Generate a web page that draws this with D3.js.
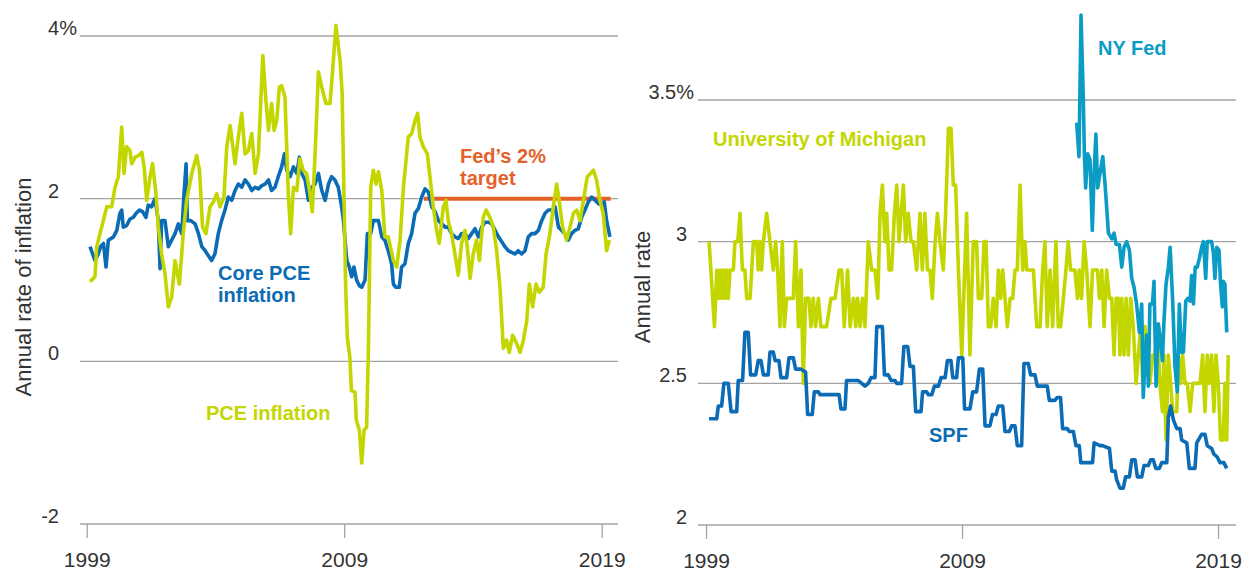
<!DOCTYPE html>
<html><head><meta charset="utf-8">
<script src="https://cdn.jsdelivr.net/npm/d3@7"></script>
<style>
body{margin:0;background:#fff;}
svg{display:block;font-family:"Liberation Sans",Arial,Helvetica,sans-serif;}
</style>
</head><body>
<svg id="chart" width="1250" height="571"></svg>
<script>
// ---------- DATA ----------
const xTickYears = [1999, 2009, 2019];
const leftYTicks = [-2, 0, 2, 4];
const leftYLabels = ["-2", "0", "2", "4%"];
const rightYTicks = [2, 2.5, 3, 3.5];
const rightYLabels = ["2", "2.5", "3", "3.5%"];
const fedTarget = [[2012.1, 2], [2019.35, 2]];

// [year fraction, annual rate %]
const pceInflation = [
[1999.13,0.98],[1999.32,1.04],[1999.39,1.41],[1999.78,1.90],[1999.97,1.90],[2000.10,2.14],[2000.23,2.27],[2000.36,2.88],[2000.45,2.31],[2000.55,2.64],[2000.68,2.59],[2000.75,2.43],[2000.88,2.51],[2001.01,2.53],[2001.14,2.57],[2001.23,2.39],[2001.33,1.98],[2001.46,2.27],[2001.56,2.43],[2001.69,2.06],[2001.78,1.65],[2001.91,1.32],[2002.04,1.08],[2002.17,0.67],[2002.30,0.79],[2002.43,1.24],[2002.60,0.95],[2002.75,1.57],[2002.88,1.98],[2003.08,2.31],[2003.27,2.53],[2003.38,2.35],[2003.50,1.65],[2003.63,1.57],[2003.79,1.90],[2003.92,1.96],[2004.05,2.06],[2004.18,1.90],[2004.33,2.02],[2004.44,2.64],[2004.57,2.90],[2004.76,2.43],[2004.89,2.76],[2005.02,3.05],[2005.15,2.55],[2005.28,2.59],[2005.41,2.80],[2005.54,2.31],[2005.67,2.55],[2005.84,3.76],[2005.96,3.21],[2006.06,2.84],[2006.18,3.17],[2006.28,2.84],[2006.38,2.96],[2006.48,3.37],[2006.57,3.39],[2006.70,3.25],[2006.83,2.06],[2006.92,1.57],[2007.03,2.14],[2007.16,2.10],[2007.28,2.49],[2007.41,2.35],[2007.54,2.31],[2007.67,2.06],[2007.76,1.84],[2007.87,2.55],[2008.00,3.56],[2008.13,3.37],[2008.29,3.17],[2008.45,3.17],[2008.58,3.70],[2008.68,4.13],[2008.84,3.70],[2008.92,3.30],[2009.00,1.90],[2009.05,1.00],[2009.12,0.30],[2009.22,0.05],[2009.28,-0.36],[2009.42,-0.38],[2009.47,-0.72],[2009.59,-0.85],[2009.68,-1.25],[2009.77,-0.85],[2009.87,-0.81],[2009.94,0.15],[2010.03,2.14],[2010.13,2.35],[2010.24,2.18],[2010.33,2.33],[2010.46,2.10],[2010.58,1.53],[2010.71,1.53],[2010.91,1.24],[2011.04,1.16],[2011.17,1.49],[2011.30,2.14],[2011.49,2.76],[2011.62,2.80],[2011.75,2.96],[2011.85,3.05],[2011.94,2.76],[2012.07,2.64],[2012.23,2.55],[2012.33,2.27],[2012.46,1.90],[2012.59,1.61],[2012.69,1.45],[2012.85,1.90],[2012.95,1.98],[2013.04,1.73],[2013.17,1.57],[2013.30,1.32],[2013.43,1.06],[2013.56,1.45],[2013.69,1.61],[2013.78,1.41],[2013.89,1.02],[2014.01,1.32],[2014.14,1.49],[2014.25,1.24],[2014.40,1.77],[2014.51,1.86],[2014.66,1.77],[2014.79,1.65],[2014.92,1.36],[2015.05,0.91],[2015.18,0.16],[2015.31,0.26],[2015.41,0.11],[2015.54,0.32],[2015.67,0.24],[2015.83,0.11],[2015.96,0.26],[2016.09,0.50],[2016.19,0.95],[2016.32,0.67],[2016.45,0.95],[2016.58,0.85],[2016.73,0.91],[2016.84,1.32],[2016.99,1.57],[2017.12,1.90],[2017.25,2.18],[2017.35,1.98],[2017.48,1.65],[2017.64,1.49],[2017.77,1.65],[2017.90,1.82],[2018.03,1.86],[2018.16,1.73],[2018.29,1.98],[2018.44,2.27],[2018.57,2.31],[2018.68,2.35],[2018.80,2.23],[2018.93,1.98],[2019.06,1.82],[2019.19,1.36],[2019.30,1.49]
];

const corePce = [
[1999.13,1.41],[1999.23,1.32],[1999.32,1.24],[1999.45,1.32],[1999.54,1.41],[1999.65,1.45],[1999.75,1.16],[1999.84,1.49],[2000.04,1.53],[2000.17,1.61],[2000.29,1.82],[2000.36,1.86],[2000.42,1.65],[2000.55,1.67],[2000.68,1.75],[2000.81,1.77],[2000.92,1.82],[2001.05,1.86],[2001.17,1.84],[2001.30,1.77],[2001.39,1.92],[2001.52,1.90],[2001.65,2.00],[2001.78,1.73],[2001.85,1.14],[2001.91,1.73],[2002.04,1.73],[2002.17,1.41],[2002.30,1.49],[2002.43,1.57],[2002.56,1.69],[2002.69,1.57],[2002.78,2.06],[2002.86,2.43],[2002.91,1.73],[2003.04,1.73],[2003.21,1.69],[2003.34,1.57],[2003.47,1.41],[2003.60,1.36],[2003.72,1.30],[2003.85,1.24],[2003.98,1.32],[2004.11,1.57],[2004.24,1.73],[2004.37,1.86],[2004.50,2.02],[2004.63,1.98],[2004.76,2.10],[2004.89,2.18],[2005.02,2.14],[2005.15,2.23],[2005.28,2.18],[2005.41,2.10],[2005.54,2.14],[2005.67,2.12],[2005.80,2.16],[2005.93,2.18],[2006.06,2.23],[2006.18,2.10],[2006.31,2.14],[2006.44,2.27],[2006.57,2.39],[2006.68,2.55],[2006.77,2.35],[2006.90,2.27],[2007.03,2.39],[2007.16,2.31],[2007.26,2.51],[2007.35,2.31],[2007.48,2.23],[2007.61,1.98],[2007.74,2.14],[2007.87,2.18],[2008.00,2.31],[2008.13,2.10],[2008.26,1.98],[2008.39,2.18],[2008.51,2.27],[2008.64,2.23],[2008.77,2.14],[2008.90,1.90],[2008.97,1.73],[2009.10,1.24],[2009.20,1.16],[2009.29,1.04],[2009.38,1.16],[2009.48,1.00],[2009.59,0.93],[2009.68,0.91],[2009.81,1.00],[2009.90,1.57],[2010.03,1.57],[2010.13,1.73],[2010.24,1.73],[2010.33,1.73],[2010.46,1.53],[2010.58,1.49],[2010.71,1.36],[2010.84,1.20],[2010.91,0.95],[2011.01,0.91],[2011.14,0.91],[2011.23,1.16],[2011.36,1.20],[2011.49,1.45],[2011.62,1.57],[2011.75,1.82],[2011.88,1.88],[2012.01,2.02],[2012.14,2.12],[2012.27,2.08],[2012.40,1.90],[2012.53,1.84],[2012.66,1.73],[2012.79,1.69],[2012.92,1.65],[2013.04,1.65],[2013.17,1.57],[2013.30,1.53],[2013.43,1.51],[2013.56,1.57],[2013.69,1.57],[2013.82,1.51],[2013.95,1.57],[2014.08,1.63],[2014.21,1.53],[2014.34,1.65],[2014.47,1.71],[2014.60,1.71],[2014.73,1.69],[2014.86,1.61],[2014.99,1.53],[2015.12,1.47],[2015.24,1.41],[2015.37,1.36],[2015.50,1.34],[2015.63,1.32],[2015.76,1.36],[2015.89,1.32],[2016.02,1.36],[2016.15,1.53],[2016.28,1.57],[2016.41,1.57],[2016.54,1.61],[2016.67,1.73],[2016.80,1.82],[2016.93,1.86],[2017.06,1.86],[2017.19,1.90],[2017.32,1.65],[2017.45,1.61],[2017.57,1.57],[2017.70,1.49],[2017.83,1.57],[2017.96,1.61],[2018.09,1.63],[2018.22,1.77],[2018.35,1.86],[2018.48,1.96],[2018.61,2.02],[2018.74,1.98],[2018.87,1.94],[2019.00,1.92],[2019.10,1.96],[2019.19,1.73],[2019.32,1.53]
];

const michigan = [
[1999.12,3.0],[1999.33,2.7],[1999.42,2.9],[1999.48,2.8],[1999.55,2.9],[1999.61,2.8],[1999.68,2.9],[1999.74,2.8],[1999.81,2.9],[1999.87,2.8],[1999.94,2.9],[2000.07,2.9],[2000.13,3.0],[2000.24,3.0],[2000.33,3.1],[2000.42,2.9],[2000.52,2.9],[2000.59,2.8],[2000.72,2.8],[2000.85,3.0],[2000.98,3.0],[2001.04,2.9],[2001.11,3.0],[2001.17,2.9],[2001.24,3.0],[2001.37,3.1],[2001.50,3.0],[2001.63,2.9],[2001.72,3.0],[2001.80,2.9],[2001.89,2.7],[2001.98,3.0],[2002.06,2.7],[2002.15,2.8],[2002.41,2.8],[2002.50,3.0],[2002.61,2.7],[2002.71,2.9],[2002.80,2.5],[2002.89,2.8],[2003.02,2.8],[2003.10,2.7],[2003.19,2.8],[2003.28,2.7],[2003.39,2.8],[2003.49,2.7],[2003.71,2.7],[2003.88,2.8],[2004.04,2.8],[2004.20,2.9],[2004.30,2.9],[2004.40,2.7],[2004.53,2.9],[2004.63,2.7],[2004.76,2.8],[2004.85,2.7],[2004.92,2.8],[2005.02,2.7],[2005.11,2.8],[2005.21,2.7],[2005.34,3.0],[2005.47,2.9],[2005.60,2.9],[2005.71,2.8],[2005.80,3.1],[2005.89,3.2],[2005.99,3.0],[2006.06,3.1],[2006.15,2.9],[2006.25,2.9],[2006.36,3.1],[2006.45,3.2],[2006.54,3.0],[2006.62,3.1],[2006.71,3.2],[2006.80,3.0],[2006.90,3.1],[2007.01,3.0],[2007.10,3.0],[2007.23,2.9],[2007.36,3.1],[2007.45,2.9],[2007.55,3.1],[2007.65,2.9],[2007.75,2.9],[2007.84,2.8],[2007.95,3.0],[2008.04,3.1],[2008.14,3.0],[2008.27,2.9],[2008.36,3.1],[2008.47,3.4],[2008.57,3.4],[2008.66,3.2],[2008.75,3.2],[2008.86,2.9],[2008.99,2.6],[2009.18,3.1],[2009.31,2.6],[2009.44,3.0],[2009.57,3.0],[2009.64,2.8],[2009.77,2.8],[2009.86,3.0],[2009.94,3.0],[2010.03,2.7],[2010.12,2.7],[2010.22,2.8],[2010.33,2.7],[2010.42,2.9],[2010.51,2.8],[2010.59,2.9],[2010.68,2.8],[2010.77,2.7],[2010.88,2.8],[2010.98,2.8],[2011.07,2.9],[2011.16,2.9],[2011.27,3.2],[2011.37,2.9],[2011.46,3.0],[2011.53,2.9],[2011.79,2.9],[2011.92,2.7],[2012.05,2.7],[2012.15,2.9],[2012.24,3.0],[2012.33,2.7],[2012.44,2.9],[2012.54,2.7],[2012.67,3.0],[2012.76,2.7],[2012.85,2.7],[2012.96,2.8],[2013.06,2.9],[2013.15,3.0],[2013.24,2.9],[2013.41,2.9],[2013.51,2.8],[2013.58,2.9],[2013.67,2.8],[2013.77,3.0],[2013.87,2.9],[2014.00,2.7],[2014.10,2.9],[2014.29,2.9],[2014.37,2.8],[2014.46,2.9],[2014.55,2.7],[2014.65,2.9],[2014.76,2.8],[2014.85,2.8],[2014.94,2.6],[2015.02,2.8],[2015.11,2.8],[2015.17,2.6],[2015.24,2.8],[2015.33,2.6],[2015.41,2.8],[2015.50,2.6],[2015.59,2.8],[2015.69,2.7],[2015.80,2.5],[2015.89,2.6],[2015.98,2.7],[2016.06,2.5],[2016.15,2.7],[2016.24,2.6],[2016.34,2.5],[2016.45,2.6],[2016.54,2.6],[2016.63,2.7],[2016.73,2.5],[2016.83,2.4],[2016.89,2.6],[2016.97,2.3],[2017.06,2.6],[2017.15,2.5],[2017.23,2.4],[2017.39,2.4],[2017.45,2.6],[2017.54,2.5],[2017.62,2.6],[2017.71,2.5],[2017.80,2.5],[2017.91,2.4],[2018.01,2.5],[2018.30,2.5],[2018.40,2.6],[2018.49,2.4],[2018.58,2.6],[2018.66,2.5],[2018.75,2.6],[2018.84,2.4],[2018.92,2.6],[2019.01,2.5],[2019.10,2.3],[2019.21,2.3],[2019.27,2.5],[2019.34,2.3],[2019.40,2.6]
];

const nyFed = [
[2013.48,3.42],[2013.57,3.30],[2013.65,3.80],[2013.74,3.50],[2013.78,3.31],[2013.83,3.19],[2013.91,3.31],[2014.00,3.29],[2014.09,3.04],[2014.16,3.24],[2014.23,3.38],[2014.30,3.19],[2014.39,3.24],[2014.50,3.30],[2014.59,3.20],[2014.72,3.03],[2014.85,3.01],[2014.94,3.03],[2015.02,2.99],[2015.15,2.99],[2015.24,2.91],[2015.33,2.98],[2015.43,3.00],[2015.54,2.97],[2015.63,2.87],[2015.72,2.84],[2015.82,2.78],[2015.93,2.68],[2016.02,2.78],[2016.08,2.45],[2016.16,2.60],[2016.21,2.67],[2016.28,2.49],[2016.34,2.78],[2016.44,2.78],[2016.50,2.86],[2016.58,2.49],[2016.67,2.71],[2016.73,2.67],[2016.83,2.58],[2016.89,2.72],[2016.97,2.85],[2017.06,2.91],[2017.13,2.98],[2017.23,2.79],[2017.32,2.56],[2017.41,2.47],[2017.49,2.78],[2017.57,2.61],[2017.65,2.61],[2017.74,2.79],[2017.82,2.80],[2017.91,2.79],[2017.97,2.88],[2018.04,2.78],[2018.11,2.91],[2018.19,2.91],[2018.27,2.94],[2018.36,2.98],[2018.43,3.00],[2018.52,2.87],[2018.58,3.00],[2018.75,3.00],[2018.82,2.96],[2018.88,2.87],[2018.95,2.98],[2019.04,2.97],[2019.10,2.85],[2019.17,2.77],[2019.21,2.86],[2019.27,2.85],[2019.34,2.68]
];

const spf = [
[1999.12,2.375],[1999.42,2.375],[1999.48,2.42],[1999.61,2.42],[1999.70,2.50],[1999.87,2.50],[1999.98,2.40],[2000.20,2.40],[2000.26,2.51],[2000.43,2.51],[2000.52,2.68],[2000.65,2.68],[2000.74,2.53],[2000.94,2.53],[2001.04,2.58],[2001.15,2.58],[2001.24,2.53],[2001.43,2.53],[2001.50,2.61],[2001.63,2.61],[2001.70,2.58],[2001.85,2.58],[2001.93,2.52],[2002.15,2.52],[2002.24,2.59],[2002.41,2.59],[2002.50,2.55],[2002.71,2.55],[2002.89,2.54],[2002.97,2.39],[2003.15,2.39],[2003.23,2.47],[2003.39,2.47],[2003.45,2.46],[2004.20,2.46],[2004.27,2.41],[2004.43,2.41],[2004.49,2.51],[2004.95,2.51],[2005.08,2.50],[2005.21,2.49],[2005.34,2.50],[2005.45,2.52],[2005.60,2.52],[2005.67,2.70],[2005.89,2.70],[2005.97,2.53],[2006.12,2.53],[2006.23,2.51],[2006.38,2.51],[2006.45,2.50],[2006.64,2.50],[2006.73,2.63],[2006.88,2.63],[2006.97,2.56],[2007.10,2.56],[2007.19,2.40],[2007.40,2.40],[2007.46,2.47],[2007.62,2.47],[2007.68,2.46],[2007.82,2.46],[2007.92,2.49],[2008.08,2.49],[2008.18,2.52],[2008.34,2.52],[2008.43,2.58],[2008.57,2.58],[2008.64,2.52],[2008.79,2.52],[2008.86,2.59],[2009.03,2.59],[2009.10,2.41],[2009.31,2.41],[2009.42,2.47],[2009.57,2.47],[2009.68,2.55],[2009.81,2.55],[2009.90,2.35],[2010.09,2.35],[2010.19,2.39],[2010.33,2.39],[2010.42,2.42],[2010.59,2.42],[2010.68,2.33],[2010.85,2.33],[2010.94,2.35],[2011.07,2.35],[2011.16,2.28],[2011.33,2.28],[2011.42,2.57],[2011.59,2.57],[2011.68,2.53],[2011.85,2.53],[2011.94,2.49],[2012.33,2.49],[2012.41,2.44],[2012.63,2.44],[2012.72,2.45],[2012.85,2.45],[2012.93,2.34],[2013.11,2.34],[2013.19,2.33],[2013.35,2.33],[2013.45,2.28],[2013.58,2.28],[2013.64,2.22],[2014.10,2.22],[2014.16,2.29],[2014.39,2.28],[2014.49,2.28],[2014.76,2.27],[2014.85,2.19],[2014.98,2.19],[2015.04,2.16],[2015.17,2.13],[2015.30,2.13],[2015.39,2.17],[2015.54,2.17],[2015.63,2.23],[2015.76,2.23],[2015.85,2.17],[2016.02,2.17],[2016.11,2.21],[2016.28,2.21],[2016.37,2.23],[2016.47,2.23],[2016.57,2.20],[2016.71,2.20],[2016.80,2.22],[2017.00,2.22],[2017.06,2.38],[2017.15,2.42],[2017.26,2.37],[2017.39,2.34],[2017.52,2.34],[2017.58,2.30],[2017.78,2.29],[2017.88,2.20],[2018.10,2.20],[2018.17,2.29],[2018.36,2.32],[2018.49,2.32],[2018.58,2.28],[2018.75,2.27],[2018.84,2.25],[2018.97,2.24],[2019.08,2.22],[2019.23,2.22],[2019.34,2.20]
];

// ---------- STYLE ----------
const LIME = "#c4d600", BLUE = "#0b6cb5", TEAL = "#0a9cc5", ORANGE = "#e4612a";
const GRID = "#a3a3a3", TEXT = "#333333";

const svg = d3.select("#chart");

function panel(cfg) {
  const g = svg.append("g");
  const x = d3.scaleLinear().domain([1999, 2019]).range(cfg.xRange);
  const y = d3.scaleLinear().domain(cfg.yDomain).range(cfg.yRange);

  // gridlines
  g.selectAll("line.grid").data(cfg.yTicks).join("line")
    .attr("x1", cfg.gridX[0]).attr("x2", cfg.gridX[1])
    .attr("y1", d => y(d)).attr("y2", d => y(d))
    .attr("stroke", GRID).attr("stroke-width", 1.3);

  // y labels
  const top = d3.max(cfg.yTicks);
  g.selectAll("text.ylab").data(cfg.yTicks).join("text")
    .attr("x", d => d === top ? cfg.topLabelRight : cfg.labelRight)
    .attr("y", d => y(d) - 1)
    .attr("text-anchor", "end")
    .attr("font-size", 20).attr("fill", TEXT)
    .text((d, i) => cfg.yLabels[i]);

  // x axis (ticks + labels)
  const ax = d3.axisBottom(x).tickValues(xTickYears).tickFormat(d3.format("d")).tickSize(14).tickPadding(14);
  const axG = g.append("g").attr("transform", `translate(0,${y(cfg.yDomain[0])})`).call(ax);
  axG.select(".domain").remove();
  axG.selectAll(".tick line").attr("stroke", GRID).attr("stroke-width", 1.3);
  axG.selectAll(".tick text").attr("font-size", 21).attr("fill", TEXT)
    .attr("font-family", "Liberation Sans, Arial, sans-serif").attr("dy", 0).attr("y", 43);

  // y title
  g.append("text")
    .attr("transform", `translate(${cfg.titleX},${cfg.titleY}) rotate(-90)`)
    .attr("text-anchor", "middle").attr("font-size", 22).attr("fill", TEXT)
    .text(cfg.title);

  const line = d3.line().x(d => x(d[0])).y(d => y(d[1]));
  cfg.series.forEach(s => {
    g.append("path").datum(s.data).attr("d", line)
      .attr("fill", "none").attr("stroke", s.color).attr("stroke-width", s.width || 3.6)
      .attr("stroke-linejoin", "round").attr("stroke-linecap", "butt");
  });

  cfg.labels.forEach(l => {
    const t = g.append("text").attr("x", l.x).attr("y", l.y)
      .attr("font-size", 20).attr("font-weight", "bold").attr("fill", l.color);
    l.lines.forEach((s, i) => t.append("tspan").attr("x", l.x).attr("dy", i === 0 ? 0 : 22).text(s));
  });
}

panel({
  xRange: [86.7, 601.7], yDomain: [-2, 4], yRange: [524, 36], gridX: [80, 618],
  yTicks: leftYTicks, yLabels: leftYLabels, labelRight: 59, topLabelRight: 77,
  title: "Annual rate of inflation", titleX: 31, titleY: 287,
  series: [
    { data: fedTarget, color: ORANGE, width: 4 },
    { data: corePce, color: BLUE },
    { data: pceInflation, color: LIME }
  ],
  labels: [
    { x: 218, y: 280, lines: ["Core PCE", "inflation"], color: BLUE },
    { x: 206, y: 420, lines: ["PCE inflation"], color: LIME },
    { x: 460, y: 163, lines: ["Fed\u2019s 2%", "target"], color: ORANGE }
  ]
});

panel({
  xRange: [706, 1218], yDomain: [2, 3.5], yRange: [525, 100], gridX: [698, 1236],
  yTicks: rightYTicks, yLabels: rightYLabels, labelRight: 687, topLabelRight: 694,
  title: "Annual rate", titleX: 650, titleY: 287,
  series: [
    { data: michigan, color: LIME },
    { data: nyFed, color: TEAL },
    { data: spf, color: BLUE }
  ],
  labels: [
    { x: 713, y: 146, lines: ["University of Michigan"], color: LIME },
    { x: 1098, y: 55, lines: ["NY Fed"], color: TEAL },
    { x: 929, y: 442, lines: ["SPF"], color: BLUE }
  ]
});
</script>
</body></html>
